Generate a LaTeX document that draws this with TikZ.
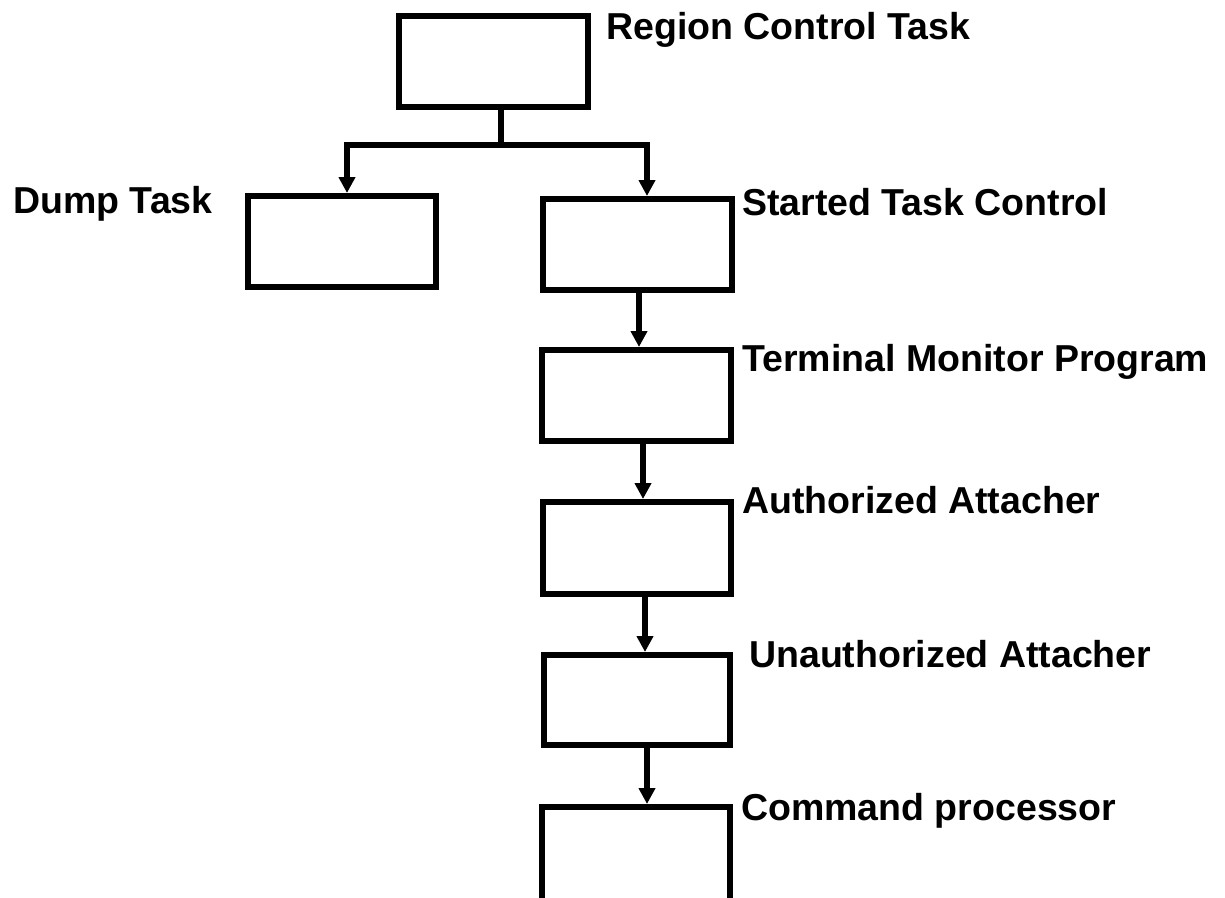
\documentclass[tikz,border=0pt]{standalone}
\usepackage{fontspec}
\setmainfont{Liberation Sans}
\usetikzlibrary{arrows.meta}
\begin{document}
\begin{tikzpicture}[x=1pt,y=-1pt,
  box/.style={draw, line width=6pt, rectangle, minimum width=188pt, minimum height=91pt, inner sep=0pt},
  lbl/.style={anchor=base west, inner sep=0pt, font=\fontsize{37.5}{42}\selectfont\bfseries},
  link/.style={line width=5.6pt},
  arr/.style={link, -{Triangle[width=16pt,length=16pt]}}]
\useasboundingbox (0,0) rectangle (1225,897);
% boxes
\node[box, minimum width=189pt, minimum height=90.5pt] (R) at (493.5,61.25) {};
\node[box, minimum height=90.5pt] (D) at (342,241.25) {};
\node[box, minimum width=188.5pt] (S) at (637.25,244.5) {};
\node[box, minimum width=188.5pt, minimum height=90.5pt] (T) at (636.25,395.25) {};
\node[box, minimum height=91.5pt] (A) at (637,547.75) {};
\node[box, minimum width=186pt, minimum height=89.5pt] (U) at (637,699.75) {};
\node[box, minimum height=100pt] (C) at (636,857) {};
% labels
\node[lbl] (lR) at (606,39) {Region Control Task};
\node[lbl] (lD) at (13,213) {Dump Task};
\node[lbl] (lS) at (742,215) {Started Task Control};
\node[lbl] (lT) at (742,371) {Terminal Monitor Program};
\node[lbl] (lA) at (742,513) {Authorized Attacher};
\node[lbl] (lU) at (749,667) {Unauthorized Attacher};
\node[lbl] (lC) at (741,820) {Command processor};
% connectors
\coordinate (J) at (501,145);
\coordinate (jL) at (347,145);
\coordinate (jR) at (647,145);
\draw[link] (R.south -| J) -- (J);
\draw[arr] (J) -| (D.north -| jL);
\draw[arr] (J) -| (S.north -| jR);
\coordinate (x1) at (639,0);
\coordinate (x2) at (643,0);
\coordinate (x3) at (645,0);
\coordinate (x4) at (647,0);
\draw[arr] (S.south -| x1) -- (T.north -| x1);
\draw[arr] (T.south -| x2) -- (A.north -| x2);
\draw[arr] (A.south -| x3) -- (U.north -| x3);
\draw[arr] (U.south -| x4) -- (C.north -| x4);
\end{tikzpicture}
\end{document}
